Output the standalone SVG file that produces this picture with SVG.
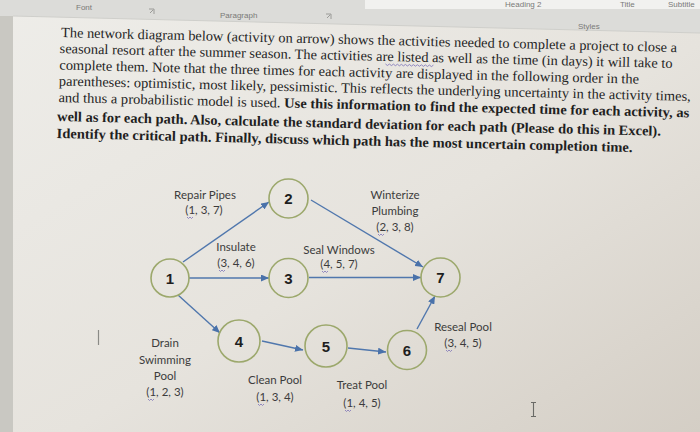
<svg xmlns="http://www.w3.org/2000/svg" width="700" height="432" viewBox="0 0 700 432">
<defs>
<linearGradient id="pg" x1="0" y1="0" x2="1" y2="1">
<stop offset="0" stop-color="#eeede9"/>
<stop offset="0.55" stop-color="#e6e3dd"/>
<stop offset="1" stop-color="#d4cec5"/>
</linearGradient>
<marker id="ah" markerUnits="userSpaceOnUse" markerWidth="9" markerHeight="7" refX="8" refY="3.5" orient="auto">
<path d="M0,0 L8,3.5 L0,7 z" fill="#4a72aa"/>
</marker>
<style>
.body{font-family:"Liberation Serif","Times New Roman",serif;font-size:14px;fill:#1f1f1f}
.b{font-weight:bold}
.rib{font-family:"Liberation Sans",Arial,sans-serif;font-size:8px;fill:#7a7a78}
.lbl{font-family:Lato,"Open Sans",sans-serif;font-size:11.5px;fill:#3c3c3c;text-anchor:middle}
.num{font-family:"Liberation Sans",Arial,sans-serif;font-size:15px;font-weight:bold;fill:#1e1e1e;text-anchor:middle}
.node{fill:none;stroke:#9ca86c;stroke-width:1.6}
.edge{fill:none;stroke:#5077ad;stroke-width:1.4;marker-end:url(#ah)}
.sq{fill:none;stroke:#7c72b8;stroke-width:0.8}
</style>
</defs>
<rect width="700" height="432" fill="url(#pg)"/>
<rect x="0" y="0" width="13" height="432" fill="#c9c8c2"/>
<polygon points="0,0 700,0 700,33 13,16 0,16" fill="#dcdcd9"/>
<line x1="13" y1="16" x2="700" y2="33" stroke="#cfcfcb" stroke-width="1"/>
<rect x="365" y="-3" width="335" height="12" fill="#f1f1ef"/>
<text class="rib" x="505" y="7">Heading 2</text>
<text class="rib" x="620" y="7">Title</text>
<text class="rib" x="668" y="7">Subtitle</text>
<text class="rib" x="76" y="10">Font</text>
<text class="rib" x="220" y="18">Paragraph</text>
<text class="rib" x="578" y="29" font-size="7.5">Styles</text>
<path d="M149,9 h5 v5 M150,13 l3,-3" fill="none" stroke="#8a8a88" stroke-width="0.8"/>
<path d="M326,14 h5 v5 M327,18 l3,-3" fill="none" stroke="#8a8a88" stroke-width="0.8"/>

<g transform="rotate(1.4 60 37)">
<text class="body" x="61" y="37" textLength="616" lengthAdjust="spacingAndGlyphs">The network diagram below (activity on arrow) shows the activities needed to complete a project to close a</text>
<text class="body" x="60" y="53" textLength="613" lengthAdjust="spacingAndGlyphs">seasonal resort after the summer season. The activities are listed as well as the time (in days) it will take to</text>
<text class="body" x="60" y="69.5" textLength="580" lengthAdjust="spacingAndGlyphs">complete them. Note that the three times for each activity are displayed in the following order in the</text>
<text class="body" x="60" y="85.5" textLength="632" lengthAdjust="spacingAndGlyphs">parentheses: optimistic, most likely, pessimistic. This reflects the underlying uncertainty in the activity times,</text>
<text class="body" x="60" y="102" textLength="631" lengthAdjust="spacingAndGlyphs">and thus a probabilistic model is used. <tspan class="b">Use this information to find the expected time for each activity, as</tspan></text>
<text class="body b" x="59" y="121" textLength="604" lengthAdjust="spacingAndGlyphs">well as for each path. Also, calculate the standard deviation for each path (Please do this in Excel).</text>
<text class="body b" x="59" y="138" textLength="576" lengthAdjust="spacingAndGlyphs">Identify the critical path. Finally, discuss which path has the most uncertain completion time.</text>
<path d="M386,56 l2,1.5 l2,-1.5 l2,1.5 l2,-1.5 l2,1.5 l2,-1.5 l2,1.5 l2,-1.5 l2,1.5 l2,-1.5 l2,1.5 l2,-1.5 l2,1.5 l2,-1.5 l2,1.5 l2,-1.5 l2,1.5 l2,-1.5 l2,1.5 l2,-1.5 l2,1.5 l2,-1.5 l2,1.5 l2,-1.5" class="sq" stroke="#5a6fc0"/>
</g>

<g id="connectors">
<line class="edge" x1="183" y1="262" x2="269" y2="202"/>
<line class="edge" x1="189" y1="278" x2="269" y2="278"/>
<line class="edge" x1="178" y1="295" x2="220" y2="333"/>
<line class="edge" x1="311" y1="200" x2="423" y2="267"/>
<line class="edge" x1="309" y1="277.5" x2="421" y2="277.5"/>
<line class="edge" x1="262" y1="341" x2="303" y2="350"/>
<line class="edge" x1="348" y1="348" x2="386" y2="352"/>
<line class="edge" x1="417" y1="329" x2="435" y2="296"/>
</g>

<g id="labels">
<text class="lbl" x="205" y="199">Repair Pipes</text>
<text class="lbl" x="204" y="214">(1, 3, 7)</text>
<text class="lbl" x="395" y="199">Winterize</text>
<text class="lbl" x="395" y="215">Plumbing</text>
<text class="lbl" x="395" y="231">(2, 3, 8)</text>
<text class="lbl" x="236" y="251">Insulate</text>
<text class="lbl" x="236" y="267">(3, 4, 6)</text>
<text class="lbl" x="339" y="254">Seal Windows</text>
<text class="lbl" x="339" y="268">(4, 5, 7)</text>
<text class="lbl" x="165" y="347">Drain</text>
<text class="lbl" x="165" y="364">Swimming</text>
<text class="lbl" x="165" y="380">Pool</text>
<text class="lbl" x="165" y="396">(1, 2, 3)</text>
<text class="lbl" x="275" y="384">Clean Pool</text>
<text class="lbl" x="275" y="401">(1, 3, 4)</text>
<text class="lbl" x="362" y="389">Treat Pool</text>
<text class="lbl" x="362" y="407">(1, 4, 5)</text>
<text class="lbl" x="463" y="331">Reseal Pool</text>
<text class="lbl" x="463" y="347">(3, 4, 5)</text>
<path class="sq" d="M187,217 l1.5,1.5 l1.5,-1.5 l1.5,1.5 l1.5,-1.5 M378,234 l1.5,1.5 l1.5,-1.5 l1.5,1.5 l1.5,-1.5 M219,270 l1.5,1.5 l1.5,-1.5 l1.5,1.5 l1.5,-1.5 M322,271 l1.5,1.5 l1.5,-1.5 l1.5,1.5 l1.5,-1.5 M148,399 l1.5,1.5 l1.5,-1.5 l1.5,1.5 l1.5,-1.5 M258,404 l1.5,1.5 l1.5,-1.5 l1.5,1.5 l1.5,-1.5 M345,410 l1.5,1.5 l1.5,-1.5 l1.5,1.5 l1.5,-1.5 M446,350 l1.5,1.5 l1.5,-1.5 l1.5,1.5 l1.5,-1.5"/>
</g>

<g id="node1"><circle class="node" cx="170" cy="278" r="19"/><text class="num" x="170" y="283.5">1</text></g>
<g id="node2"><circle class="node" cx="288.5" cy="198.5" r="19.5"/><text class="num" x="288.5" y="204">2</text></g>
<g id="node3"><circle class="node" cx="288.5" cy="278" r="19.5"/><text class="num" x="288.5" y="283.5">3</text></g>
<g id="node4"><circle class="node" cx="239" cy="341" r="21"/><text class="num" x="239" y="346.5">4</text></g>
<g id="node5"><circle class="node" cx="326" cy="346" r="21"/><text class="num" x="326" y="351.5">5</text></g>
<g id="node6"><circle class="node" cx="407" cy="350" r="19.5"/><text class="num" x="407" y="355.5">6</text></g>
<g id="node7"><circle class="node" cx="440.5" cy="277.5" r="19.5"/><text class="num" x="440.5" y="283">7</text></g>

<line x1="98.5" y1="330" x2="98.5" y2="345" stroke="#8a8a86" stroke-width="1.2"/>
<path d="M531,402.5 h5 M533.5,402.5 v14 M531,416.5 h5" fill="none" stroke="#6a6a66" stroke-width="1.1"/>
</svg>
